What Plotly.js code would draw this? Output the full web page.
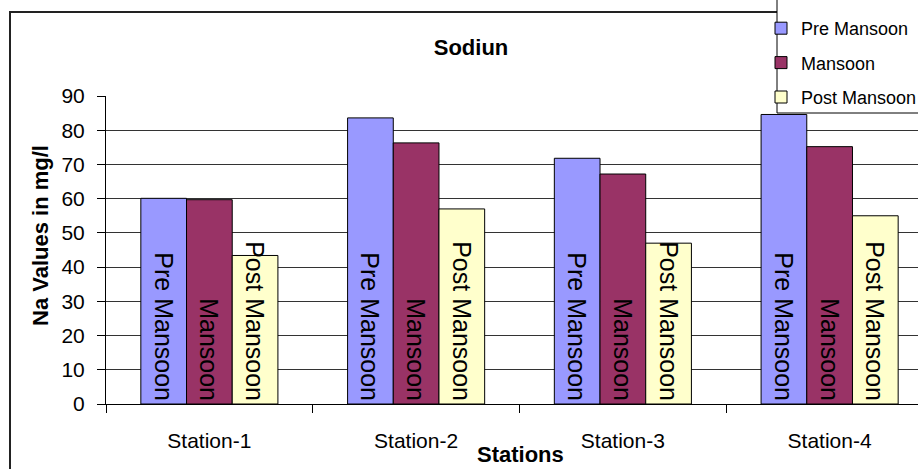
<!DOCTYPE html>
<html>
<head>
<meta charset="utf-8">
<script src="https://cdn.plot.ly/plotly-3.0.1.min.js"></script>
<style>
html, body { margin:0; padding:0; width:918px; height:469px; overflow:hidden; background:#fff; }
#frame { position:absolute; left:9px; top:11px; width:1000px; height:600px; border:2px solid #222; box-sizing:border-box; z-index:0; }
#chart { position:absolute; left:0; top:0; width:960px; height:469px; z-index:1; }
</style>
</head>
<body>
<div id="frame"></div>
<div id="chart"></div>
<script>
var stations = ["Station-1", "Station-2", "Station-3", "Station-4"];
var seriesNames = ["Pre Mansoon", "Mansoon", "Post Mansoon"];
var preMansoon = [60.1, 83.6, 71.8, 84.6];
var mansoon = [59.7, 76.3, 67.2, 75.2];
var postMansoon = [43.4, 57.0, 47.0, 55.0];
var colors = ["#9999FF", "#993366", "#FFFFCC"];
var yTicks = [0, 10, 20, 30, 40, 50, 60, 70, 80, 90];

var W = 960, H = 469;
var L = 106, R = 933, T = 96, B = 404;
var FONT = "Liberation Sans, Arial, sans-serif";
var values = [preMansoon, mansoon, postMansoon];

var traces = values.map(function (v, i) {
  return {
    type: "bar",
    name: seriesNames[i],
    x: stations,
    y: v,
    text: v.map(function () { return seriesNames[i]; }),
    textposition: "inside",
    insidetextanchor: "start",
    textangle: 90,
    constraintext: "none",
    cliponaxis: false,
    textfont: { family: FONT, size: 25, color: "#000" },
    marker: { color: colors[i], line: { color: "#000", width: 1 } },
    hoverinfo: "x+y+name",
    legendgroup: "g" + i
  };
});

function px2paperX(p) { return (p - L) / (R - L); }
function px2paperY(p) { return (B - p) / (B - T); }

var layout = {
  width: W,
  height: H,
  paper_bgcolor: "rgba(0,0,0,0)",
  plot_bgcolor: "#fff",
  font: { family: FONT, color: "#000" },
  margin: { l: L, r: W - R, t: T, b: H - B, autoexpand: false },
  barmode: "group",
  bargap: 0.337,
  bargroupgap: 0,
  title: {
    text: "<b>Sodiun</b>",
    font: { family: FONT, size: 22, color: "#000" },
    xref: "container", yref: "container",
    x: 471 / W, xanchor: "center",
    y: 1 - 47 / H, yanchor: "middle"
  },
  xaxis: {
    type: "category",
    range: [-0.5, 3.5],
    showline: true, linecolor: "#000", linewidth: 1,
    ticks: "outside", tickson: "boundaries", ticklen: 8, tickcolor: "#000",
    tickfont: { family: FONT, size: 21, color: "#000" },
    ticklabelstandoff: 18,
    showgrid: false,
    fixedrange: true
  },
  yaxis: {
    range: [0, 90],
    tickvals: yTicks,
    ticktext: yTicks.map(String),
    showline: true, linecolor: "#000", linewidth: 1,
    ticks: "outside", ticklen: 8, tickcolor: "#000",
    tickfont: { family: FONT, size: 21, color: "#000" },
    ticklabelstandoff: 8,
    showgrid: true, gridcolor: "#333", gridwidth: 1,
    zeroline: false,
    fixedrange: true
  },
  shapes: [
    {
      type: "rect", layer: "above",
      xref: "paper", yref: "paper",
      x0: px2paperX(777), x1: px2paperX(1000),
      y0: px2paperY(113), y1: px2paperY(-5),
      fillcolor: "#fff",
      line: { color: "#000", width: 1 }
    }
  ],
  legend: {
    xref: "container", yref: "container",
    x: 761 / W, xanchor: "left",
    y: 1 - 116 / H, yanchor: "bottom",
    bgcolor: "rgba(0,0,0,0)", borderwidth: 0,
    font: { family: FONT, size: 18, color: "#000" },
    tracegroupgap: 8,
    traceorder: "grouped"
  },
  annotations: [
    {
      text: "<b>Na Values in mg/l</b>",
      xref: "paper", yref: "paper",
      x: px2paperX(40), xanchor: "center",
      y: px2paperY(236), yanchor: "middle",
      textangle: -90, showarrow: false,
      font: { family: FONT, size: 22, color: "#000" }
    },
    {
      text: "<b>Stations</b>",
      xref: "paper", yref: "paper",
      x: px2paperX(520), xanchor: "center",
      y: px2paperY(454), yanchor: "middle",
      showarrow: false,
      font: { family: FONT, size: 22, color: "#000" }
    }
  ]
};

Plotly.newPlot("chart", traces, layout, { displayModeBar: false, staticPlot: true });
</script>
</body>
</html>
